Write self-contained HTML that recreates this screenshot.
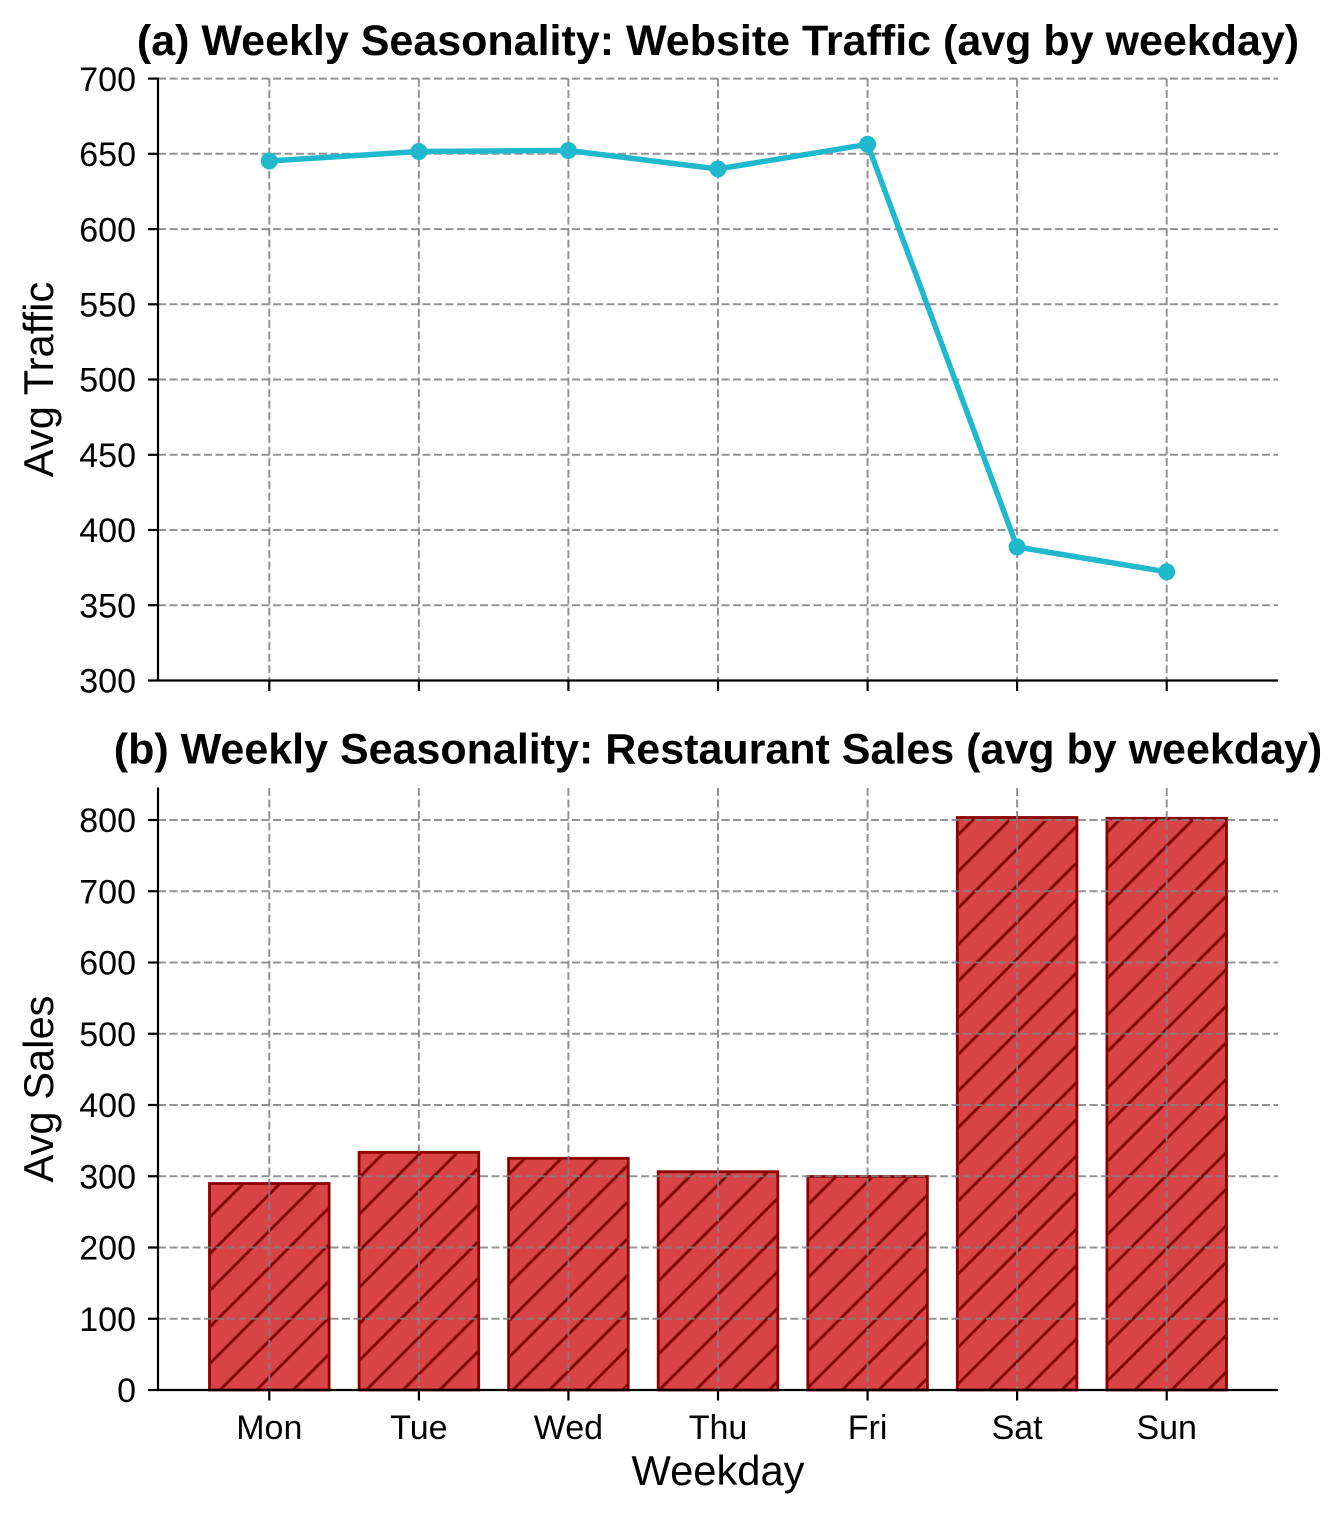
<!DOCTYPE html>
<html>
<head>
<meta charset="utf-8">
<style>
  html,body{margin:0;padding:0;background:#fff;}
  svg{display:block;}
  text{font-family:"Liberation Sans", Arial, sans-serif;fill:#000;}
</style>
</head>
<body>
<svg width="1340" height="1521" viewBox="0 0 1340 1521" xmlns="http://www.w3.org/2000/svg">
  <defs>
    <pattern id="hatch" patternUnits="userSpaceOnUse" x="36.2" y="0" width="36.6" height="36.6">
      <line x1="0" y1="36.6" x2="36.6" y2="0" stroke="#800000" stroke-width="2.8"/>
      <line x1="-6" y1="6" x2="6" y2="-6" stroke="#800000" stroke-width="2.8"/>
      <line x1="30.6" y1="42.6" x2="42.6" y2="30.6" stroke="#800000" stroke-width="2.8"/>
    </pattern>
  </defs>
  <rect width="1340" height="1521" fill="#fff"/>

  <!-- ===================== TOP CHART ===================== -->
  <text x="718" y="55" font-size="43" font-weight="bold" text-anchor="middle">(a) Weekly Seasonality: Website Traffic (avg by weekday)</text>

  <!-- grid -->
  <g stroke="#808080" stroke-opacity="0.85" stroke-width="2" stroke-dasharray="8,3.5" fill="none">
    <line x1="158" y1="78.6" x2="1278" y2="78.6"/>
    <line x1="158" y1="153.8" x2="1278" y2="153.8"/>
    <line x1="158" y1="229.1" x2="1278" y2="229.1"/>
    <line x1="158" y1="304.3" x2="1278" y2="304.3"/>
    <line x1="158" y1="379.5" x2="1278" y2="379.5"/>
    <line x1="158" y1="454.8" x2="1278" y2="454.8"/>
    <line x1="158" y1="530.0" x2="1278" y2="530.0"/>
    <line x1="158" y1="605.2" x2="1278" y2="605.2"/>
    <line x1="269.3" y1="78.6" x2="269.3" y2="680.5"/>
    <line x1="418.9" y1="78.6" x2="418.9" y2="680.5"/>
    <line x1="568.4" y1="78.6" x2="568.4" y2="680.5"/>
    <line x1="718.0" y1="78.6" x2="718.0" y2="680.5"/>
    <line x1="867.6" y1="78.6" x2="867.6" y2="680.5"/>
    <line x1="1017.1" y1="78.6" x2="1017.1" y2="680.5"/>
    <line x1="1166.7" y1="78.6" x2="1166.7" y2="680.5"/>
  </g>

  <!-- series -->
  <polyline points="269.3,161 418.9,151.5 568.4,150.5 718.0,169 867.6,144.3 1017.1,547 1166.7,571.8" fill="none" stroke="#1fb8cc" stroke-width="5.5" stroke-linejoin="round" stroke-linecap="round"/>
  <g fill="#1fb8cc">
    <circle cx="269.3" cy="161" r="8.5"/>
    <circle cx="418.9" cy="151.5" r="8.5"/>
    <circle cx="568.4" cy="150.5" r="8.5"/>
    <circle cx="718.0" cy="169" r="8.5"/>
    <circle cx="867.6" cy="144.3" r="8.5"/>
    <circle cx="1017.1" cy="547" r="8.5"/>
    <circle cx="1166.7" cy="571.8" r="8.5"/>
  </g>

  <!-- spines & ticks -->
  <g stroke="#000" stroke-width="2.2" fill="none">
    <line x1="158" y1="77.5" x2="158" y2="681.5"/>
    <line x1="157" y1="680.5" x2="1278" y2="680.5"/>
    <line x1="148" y1="78.6" x2="158" y2="78.6"/>
    <line x1="148" y1="153.8" x2="158" y2="153.8"/>
    <line x1="148" y1="229.1" x2="158" y2="229.1"/>
    <line x1="148" y1="304.3" x2="158" y2="304.3"/>
    <line x1="148" y1="379.5" x2="158" y2="379.5"/>
    <line x1="148" y1="454.8" x2="158" y2="454.8"/>
    <line x1="148" y1="530.0" x2="158" y2="530.0"/>
    <line x1="148" y1="605.2" x2="158" y2="605.2"/>
    <line x1="148" y1="680.5" x2="158" y2="680.5"/>
    <line x1="269.3" y1="680.5" x2="269.3" y2="691"/>
    <line x1="418.9" y1="680.5" x2="418.9" y2="691"/>
    <line x1="568.4" y1="680.5" x2="568.4" y2="691"/>
    <line x1="718.0" y1="680.5" x2="718.0" y2="691"/>
    <line x1="867.6" y1="680.5" x2="867.6" y2="691"/>
    <line x1="1017.1" y1="680.5" x2="1017.1" y2="691"/>
    <line x1="1166.7" y1="680.5" x2="1166.7" y2="691"/>
  </g>
  <g font-size="34" text-anchor="end">
    <text x="136" y="90.8">700</text>
    <text x="136" y="166">650</text>
    <text x="136" y="241.3">600</text>
    <text x="136" y="316.5">550</text>
    <text x="136" y="391.7">500</text>
    <text x="136" y="467">450</text>
    <text x="136" y="542.2">400</text>
    <text x="136" y="617.4">350</text>
    <text x="136" y="692.7">300</text>
  </g>
  <text transform="translate(53,379.5) rotate(-90)" font-size="41.7" text-anchor="middle">Avg Traffic</text>

  <!-- ===================== BOTTOM CHART ===================== -->
  <text x="718" y="763.5" font-size="43" font-weight="bold" text-anchor="middle">(b) Weekly Seasonality: Restaurant Sales (avg by weekday)</text>

  <!-- bars -->
  <g stroke="#8b0000" stroke-width="2.8">
    <rect x="209.5" y="1183.5" width="119.6" height="206.5" fill="#d94446"/>
    <rect x="359.1" y="1152.3" width="119.6" height="237.7" fill="#d94446"/>
    <rect x="508.6" y="1158.3" width="119.6" height="231.7" fill="#d94446"/>
    <rect x="658.2" y="1171.7" width="119.6" height="218.3" fill="#d94446"/>
    <rect x="807.8" y="1176.5" width="119.6" height="213.5" fill="#d94446"/>
    <rect x="957.3" y="817.5" width="119.6" height="572.5" fill="#d94446"/>
    <rect x="1106.9" y="818.3" width="119.6" height="571.7" fill="#d94446"/>
  </g>
  <g fill="url(#hatch)">
    <rect x="210.9" y="1184.9" width="116.8" height="205.1"/>
    <rect x="360.5" y="1153.7" width="116.8" height="236.3"/>
    <rect x="510.0" y="1159.7" width="116.8" height="230.3"/>
    <rect x="659.6" y="1173.1" width="116.8" height="216.9"/>
    <rect x="809.2" y="1177.9" width="116.8" height="212.1"/>
    <rect x="958.7" y="818.9" width="116.8" height="571.1"/>
    <rect x="1108.3" y="819.7" width="116.8" height="570.3"/>
  </g>

  <!-- grid -->
  <g stroke="#808080" stroke-opacity="0.85" stroke-width="2" stroke-dasharray="8,3.5" fill="none">
    <line x1="158" y1="1318.75" x2="1278" y2="1318.75"/>
    <line x1="158" y1="1247.5" x2="1278" y2="1247.5"/>
    <line x1="158" y1="1176.25" x2="1278" y2="1176.25"/>
    <line x1="158" y1="1105" x2="1278" y2="1105"/>
    <line x1="158" y1="1033.75" x2="1278" y2="1033.75"/>
    <line x1="158" y1="962.5" x2="1278" y2="962.5"/>
    <line x1="158" y1="891.25" x2="1278" y2="891.25"/>
    <line x1="158" y1="820" x2="1278" y2="820"/>
    <line x1="269.3" y1="788" x2="269.3" y2="1390"/>
    <line x1="418.9" y1="788" x2="418.9" y2="1390"/>
    <line x1="568.4" y1="788" x2="568.4" y2="1390"/>
    <line x1="718.0" y1="788" x2="718.0" y2="1390"/>
    <line x1="867.6" y1="788" x2="867.6" y2="1390"/>
    <line x1="1017.1" y1="788" x2="1017.1" y2="1390"/>
    <line x1="1166.7" y1="788" x2="1166.7" y2="1390"/>
  </g>

  <!-- spines & ticks -->
  <g stroke="#000" stroke-width="2.2" fill="none">
    <line x1="158" y1="787.5" x2="158" y2="1391"/>
    <line x1="157" y1="1390" x2="1278" y2="1390"/>
    <line x1="148" y1="1390" x2="158" y2="1390"/>
    <line x1="148" y1="1318.75" x2="158" y2="1318.75"/>
    <line x1="148" y1="1247.5" x2="158" y2="1247.5"/>
    <line x1="148" y1="1176.25" x2="158" y2="1176.25"/>
    <line x1="148" y1="1105" x2="158" y2="1105"/>
    <line x1="148" y1="1033.75" x2="158" y2="1033.75"/>
    <line x1="148" y1="962.5" x2="158" y2="962.5"/>
    <line x1="148" y1="891.25" x2="158" y2="891.25"/>
    <line x1="148" y1="820" x2="158" y2="820"/>
    <line x1="269.3" y1="1390" x2="269.3" y2="1400.5"/>
    <line x1="418.9" y1="1390" x2="418.9" y2="1400.5"/>
    <line x1="568.4" y1="1390" x2="568.4" y2="1400.5"/>
    <line x1="718.0" y1="1390" x2="718.0" y2="1400.5"/>
    <line x1="867.6" y1="1390" x2="867.6" y2="1400.5"/>
    <line x1="1017.1" y1="1390" x2="1017.1" y2="1400.5"/>
    <line x1="1166.7" y1="1390" x2="1166.7" y2="1400.5"/>
  </g>
  <g font-size="34" text-anchor="end">
    <text x="136" y="1402.2">0</text>
    <text x="136" y="1331">100</text>
    <text x="136" y="1259.7">200</text>
    <text x="136" y="1188.5">300</text>
    <text x="136" y="1117.2">400</text>
    <text x="136" y="1046">500</text>
    <text x="136" y="974.7">600</text>
    <text x="136" y="903.5">700</text>
    <text x="136" y="832.2">800</text>
  </g>
  <g font-size="34" text-anchor="middle">
    <text x="269.3" y="1439">Mon</text>
    <text x="418.9" y="1439">Tue</text>
    <text x="568.4" y="1439">Wed</text>
    <text x="718.0" y="1439">Thu</text>
    <text x="867.6" y="1439">Fri</text>
    <text x="1017.1" y="1439">Sat</text>
    <text x="1166.7" y="1439">Sun</text>
  </g>
  <text x="718" y="1485" font-size="41.7" text-anchor="middle">Weekday</text>
  <text transform="translate(53,1089) rotate(-90)" font-size="41.7" text-anchor="middle">Avg Sales</text>
</svg>
</body>
</html>
